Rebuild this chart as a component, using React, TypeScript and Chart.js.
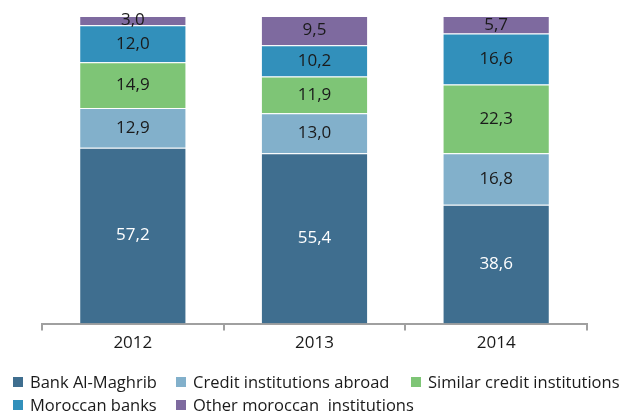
import React, { useEffect, useRef } from "react";
import { Chart, registerables } from "chart.js";

Chart.register(...registerables);

const categories = ["2012", "2013", "2014"];
const seriesNames = [
  "Bank Al-Maghrib",
  "Credit institutions abroad",
  "Similar credit institutions",
  "Moroccan banks",
  "Other moroccan  institutions",
];
const bankAlMaghrib = [57.2, 55.4, 38.6];
const creditAbroad = [12.9, 13.0, 16.8];
const similarCredit = [14.9, 11.9, 22.3];
const moroccanBanks = [12.0, 10.2, 16.6];
const otherMoroccan = [3.0, 9.5, 5.7];
const colors = ["#3f6e8f", "#82b0cb", "#7ec576", "#3290bb", "#7e6a9f"];
const labelColors = ["#ffffff", "#1a1a1a", "#1a1a1a", "#1a1a1a", "#1a1a1a"];

const FONT = "'Open Sans', 'Noto Sans', sans-serif";

export default function App() {
  const ref = useRef<HTMLCanvasElement | null>(null);

  useEffect(() => {
    document.body.style.margin = "0";
    const values = [bankAlMaghrib, creditAbroad, similarCredit, moroccanBanks, otherMoroccan];

    const labelPlugin = {
      id: "segLabels",
      afterDatasetsDraw(chart: any) {
        const ctx = chart.ctx;
        ctx.save();
        ctx.font = `17px ${FONT}`;
        ctx.textAlign = "center";
        ctx.textBaseline = "middle";
        chart.data.datasets.forEach((ds: any, i: number) => {
          const meta = chart.getDatasetMeta(i);
          meta.data.forEach((el: any, j: number) => {
            const v = ds.data[j];
            const yc = (el.y + el.base) / 2;
            ctx.fillStyle = labelColors[i];
            ctx.fillText(v.toFixed(1).replace(".", ","), el.x, yc);
          });
        });
        ctx.restore();
      },
    };

    const legendPlugin = {
      id: "gridLegend",
      afterDraw(chart: any) {
        const ctx = chart.ctx;
        const cols = [13, 176, 411];
        const rows = [382, 405];
        ctx.save();
        ctx.font = `16.5px ${FONT}`;
        ctx.textBaseline = "middle";
        ctx.textAlign = "left";
        seriesNames.forEach((name, i) => {
          const x = cols[i % 3];
          const y = rows[Math.floor(i / 3)];
          ctx.fillStyle = colors[i];
          ctx.fillRect(x, y - 5, 10, 10);
          ctx.fillStyle = "#1a1a1a";
          ctx.fillText(name, x + 17, y + 1);
        });
        ctx.restore();
      },
    };

    const chart = new Chart(ref.current as HTMLCanvasElement, {
      type: "bar",
      data: {
        labels: categories,
        datasets: seriesNames.map((name, i) => ({
          label: name,
          data: values[i],
          backgroundColor: colors[i],
          borderColor: "rgba(255,255,255,0.45)",
          borderWidth: 1,
          categoryPercentage: 0.59,
          barPercentage: 1,
        })),
      },
      options: {
        animation: false,
        responsive: false,
        layout: { padding: { left: 42, right: 36, top: 16, bottom: 59 } },
        plugins: { legend: { display: false }, tooltip: { enabled: false } },
        scales: {
          x: {
            stacked: true,
            grid: {
              display: true,
              offset: true,
              drawOnChartArea: false,
              drawTicks: true,
              tickLength: 7,
              color: "#a0a0a0",
              lineWidth: 2,
            },
            border: { display: true, color: "#a0a0a0", width: 2 },
            ticks: { color: "#1a1a1a", font: { family: FONT, size: 17 }, padding: 2 },
          },
          y: {
            stacked: true,
            display: false,
            min: 0,
            max: 100,
          },
        },
      },
      plugins: [labelPlugin, legendPlugin],
    });
    return () => chart.destroy();
  }, []);

  return (
    <div style={{ position: "absolute", left: 0, top: 0, width: 623, height: 414, background: "#fff" }}>
      <canvas ref={ref} width={623} height={414} style={{ width: 623, height: 414 }} />
    </div>
  );
}
